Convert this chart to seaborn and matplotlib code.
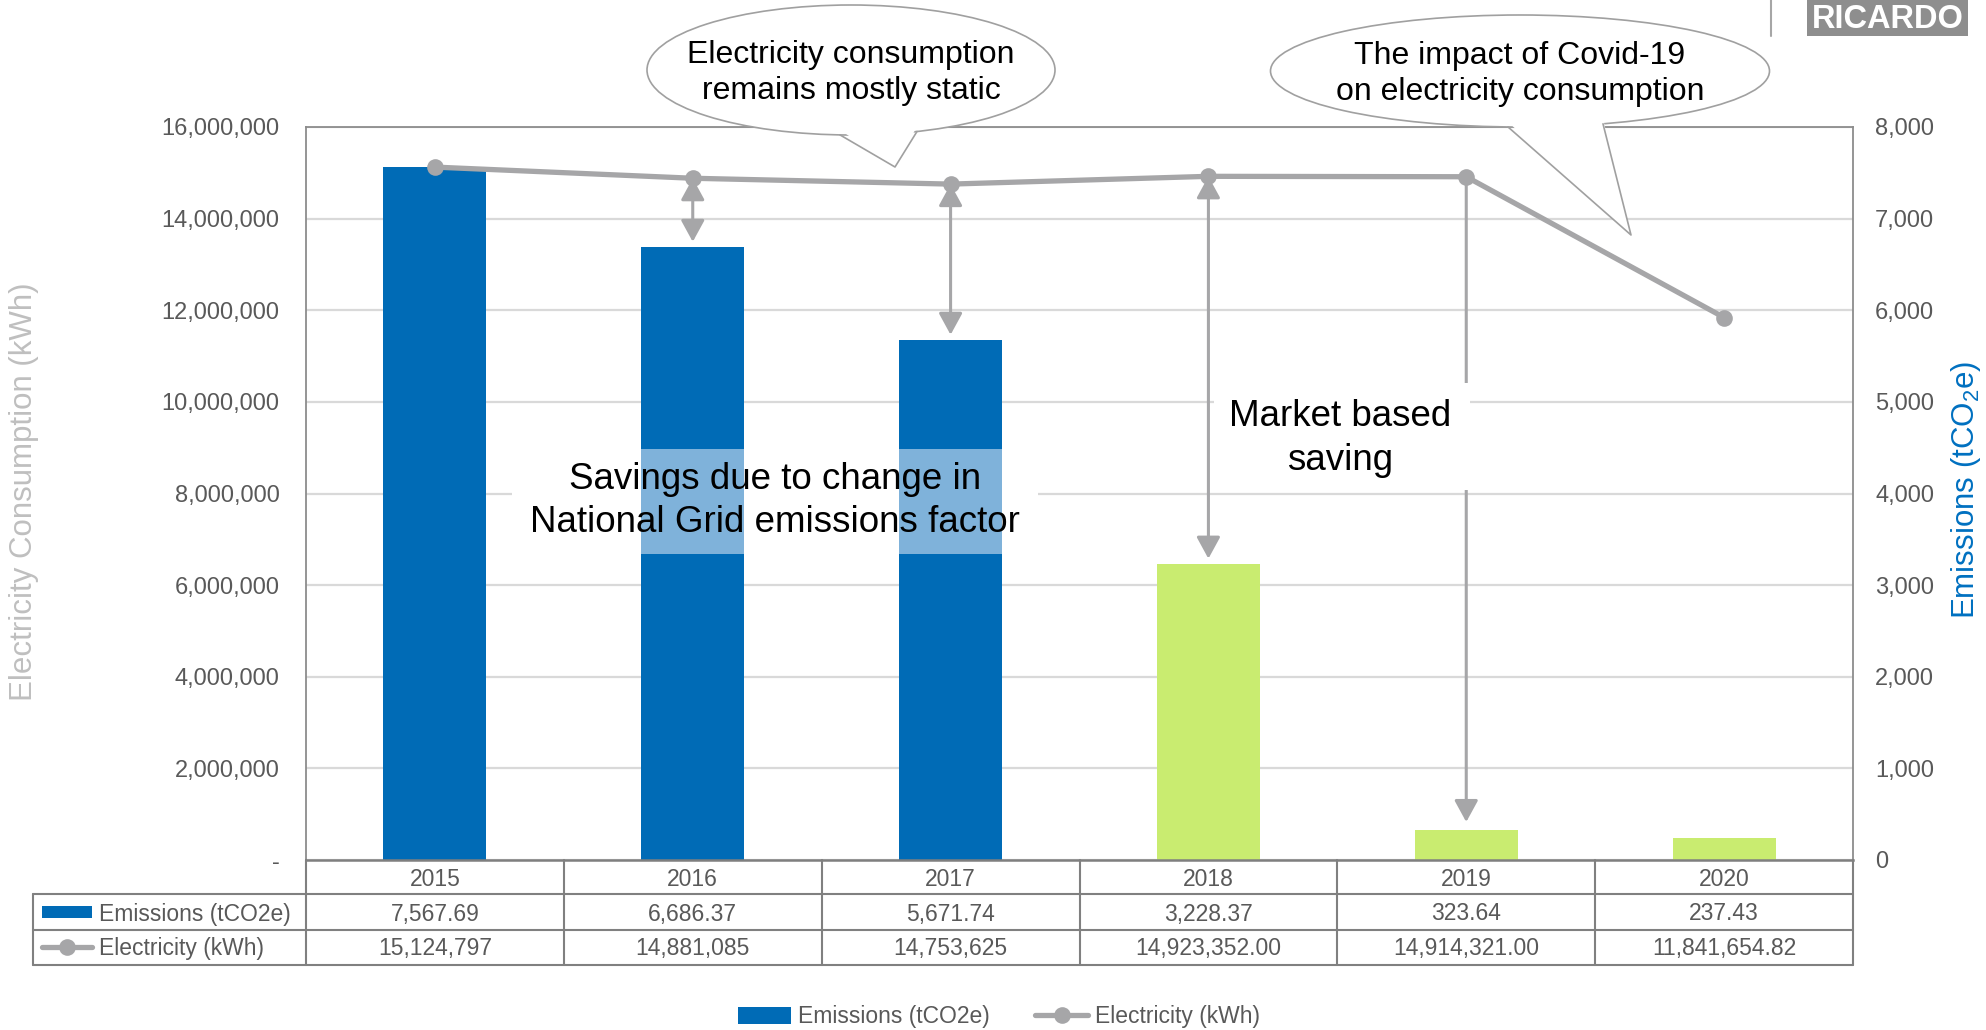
import numpy as np
import pandas as pd
import matplotlib
matplotlib.use("Agg")
import matplotlib.pyplot as plt
import matplotlib.transforms as mtransforms
from matplotlib.patches import Rectangle, Ellipse, Polygon, Patch
from matplotlib.lines import Line2D
import seaborn as sns

# ---------------- data ----------------
years = ["2015", "2016", "2017", "2018", "2019", "2020"]
emissions = [7567.69, 6686.37, 5671.74, 3228.37, 323.64, 237.43]          # tCO2e
electricity = [15124797, 14881085, 14753625, 14923352.00, 14914321.00, 11841654.82]  # kWh
basis = ["Location", "Location", "Location", "Market", "Market", "Market"]
emission_labels = ["7,567.69", "6,686.37", "5,671.74", "3,228.37", "323.64", "237.43"]
electricity_labels = ["15,124,797", "14,881,085", "14,753,625", "14,923,352.00",
                      "14,914,321.00", "11,841,654.82"]
left_ticks = [0, 2e6, 4e6, 6e6, 8e6, 10e6, 12e6, 14e6, 16e6]
left_tick_labels = ["-", "2,000,000", "4,000,000", "6,000,000", "8,000,000",
                    "10,000,000", "12,000,000", "14,000,000", "16,000,000"]
right_ticks = [0, 1000, 2000, 3000, 4000, 5000, 6000, 7000, 8000]
right_tick_labels = ["0", "1,000", "2,000", "3,000", "4,000", "5,000", "6,000", "7,000", "8,000"]
grid_factor_band = [3344, 4490]          # tCO2e range highlighted on 2016/2017 bars
grid_factor_years = [1, 2]
location_arrow_years = [1, 2, 3]
market_arrow_years = [4]

# ---------------- style ----------------
BLUE = "#006BB6"
GREEN = "#C9EC70"
LIGHT_BLUE = "#7FB2DA"
LINE_GREY = "#A6A6A8"
TEXT_GREY = "#595959"
FRAME = "#8C8C8C"
EDGE = "#A0A0A0"

sns.set_theme(style="white")
plt.rcParams["font.family"] = ["Liberation Sans", "DejaVu Sans"]
plt.rcParams["mathtext.fontset"] = "custom"
plt.rcParams["mathtext.rm"] = "Liberation Sans"
plt.rcParams["mathtext.it"] = "Liberation Sans:italic"

W, H = 1986, 1030
fig = plt.figure(figsize=(W / 100, H / 100), dpi=100)
fig.patch.set_facecolor("white")


def fx(x):
    return x / W


def fy(y):
    return 1 - y / H


ax = fig.add_axes([fx(306), fy(860), (1853 - 306) / W, (860 - 127) / H])
ax2 = ax.twinx()
ax.set_zorder(ax2.get_zorder() + 1)
ax.patch.set_visible(False)

# ---------------- bars (right axis) ----------------
df = pd.DataFrame({"year": years, "emissions": emissions, "basis": basis})
sns.barplot(data=df, x="year", y="emissions", hue="basis",
            palette={"Location": BLUE, "Market": GREEN},
            width=0.4, dodge=False, saturation=1, legend=False, ax=ax2,
            linewidth=0, edgecolor="none")
ax2.set_ylim(0, 8000)
ax2.yaxis.grid(True, color="#D9D9D9", lw=1.6)
ax2.xaxis.grid(False)
ax2.set_axisbelow(True)
ax2.set_yticks(right_ticks)
ax2.set_yticklabels(right_tick_labels)
ax2.tick_params(axis="y", length=0, pad=16, labelsize=17, labelcolor=TEXT_GREY)
ax2.set_xlabel("")
ax2.set_ylabel("")
for s in ax2.spines.values():
    s.set_visible(False)

# grid-factor savings highlight
ax2.add_patch(Rectangle((0.30, grid_factor_band[0]), 2.04,
                        grid_factor_band[1] - grid_factor_band[0],
                        facecolor="white", edgecolor="none", zorder=3))
ax2.bar(grid_factor_years, grid_factor_band[1] - grid_factor_band[0],
        bottom=grid_factor_band[0], width=0.4, color=LIGHT_BLUE, linewidth=0, zorder=4)
ax2.text(1.32, sum(grid_factor_band) / 2, "Savings due to change in\nNational Grid emissions factor",
         ha="center", va="center", fontsize=26.5, color="black", linespacing=1.3, zorder=5)

# ---------------- electricity line (left axis) ----------------
x_pos = np.arange(len(years))
sns.lineplot(x=x_pos, y=electricity, ax=ax, color=LINE_GREY, lw=3.8, marker="o",
             markersize=12, markeredgewidth=0, zorder=6, legend=False)
ax.set_ylim(0, 16e6)
ax.set_yticks(left_ticks)
ax.set_yticklabels(left_tick_labels)
ax.tick_params(axis="y", length=0, pad=19, labelsize=17, labelcolor=TEXT_GREY)
ax.tick_params(axis="x", bottom=False, labelbottom=False)
ax.set_xlabel("")
ax.set_ylabel("")
ax.grid(False)
for k, s in ax.spines.items():
    s.set_visible(True)
    s.set_color(FRAME)
    s.set_linewidth(1.3)
ax.spines["bottom"].set_color("#7F7F7F")
ax.spines["bottom"].set_linewidth(1.8)

# arrows from line to bars
for i in location_arrow_years:
    ax.annotate("", xy=(i, emissions[i]), xycoords=ax2.transData,
                xytext=(i, electricity[i]), textcoords="data",
                arrowprops=dict(arrowstyle="<|-|>,head_length=0.55,head_width=0.3",
                                mutation_scale=24, color=LINE_GREY, lw=2.2,
                                shrinkA=0, shrinkB=4), zorder=3)
for i in market_arrow_years:
    ax.annotate("", xy=(i, emissions[i]), xycoords=ax2.transData,
                xytext=(i, electricity[i]), textcoords="data",
                arrowprops=dict(arrowstyle="-|>,head_length=0.55,head_width=0.3",
                                mutation_scale=24, color=LINE_GREY, lw=2.2,
                                shrinkA=0, shrinkB=6), zorder=3)

# market based saving label
ax.add_patch(Rectangle((3.02, 8.08e6), 0.995, 2.33e6, facecolor="white",
                       edgecolor="none", zorder=7))
ax.text(3.51, 9.2e6, "Market based\nsaving", ha="center", va="center",
        fontsize=26.5, color="black", linespacing=1.3, zorder=8)

ax.set_xlim(-0.5, len(years) - 0.5)
ax2.set_xlim(-0.5, len(years) - 0.5)

# ---------------- axis titles ----------------
fig.text(fx(24), fy(492), "Electricity Consumption (kWh)", rotation=90,
         ha="center", va="center", fontsize=22.5, color="#BFBFBF")
fig.text(fx(1966), fy(490), r"Emissions (tCO$_\mathrm{2}$e)", rotation=90,
         ha="center", va="center", fontsize=22.5, color="#0070C0")

# ---------------- data table ----------------
blend = mtransforms.blended_transform_factory(ax.transData, fig.transFigure)
TL = "#808080"
row_y = [879, 914, 949]
for i in range(len(years)):
    ax.text(i, fy(row_y[0]), years[i], transform=blend, ha="center", va="center",
            fontsize=16.5, color=TEXT_GREY)
    ax.text(i, fy(row_y[1]), emission_labels[i], transform=blend, ha="center", va="center",
            fontsize=16.5, color=TEXT_GREY)
    ax.text(i, fy(row_y[2]), electricity_labels[i], transform=blend, ha="center", va="center",
            fontsize=16.5, color=TEXT_GREY)
for b in np.arange(-0.5, len(years), 1.0):
    fig.add_artist(Line2D([b, b], [fy(860), fy(965)], transform=blend, color=TL, lw=1.5))
for yy in [894, 930, 965]:
    fig.add_artist(Line2D([fx(33), fx(1853)], [fy(yy), fy(yy)], transform=fig.transFigure,
                          color=TL, lw=1.5))
fig.add_artist(Line2D([fx(33), fx(33)], [fy(894), fy(965)], transform=fig.transFigure,
                      color=TL, lw=1.5))
# row labels with keys
fig.add_artist(Rectangle((fx(42), fy(918)), 50 / W, 12 / H, transform=fig.transFigure,
                         facecolor=BLUE, edgecolor="none"))
fig.text(fx(99), fy(row_y[1]), "Emissions (tCO2e)", ha="left", va="center",
         fontsize=16.5, color=TEXT_GREY)
fig.add_artist(Line2D([fx(42), fx(92)], [fy(947), fy(947)], transform=fig.transFigure,
                      color=LINE_GREY, lw=3.8))
fig.add_artist(Line2D([fx(67)], [fy(947)], transform=fig.transFigure, marker="o",
                      markersize=12, markeredgewidth=0, color=LINE_GREY))
fig.text(fx(99), fy(row_y[2]), "Electricity (kWh)", ha="left", va="center",
         fontsize=16.5, color=TEXT_GREY)

# ---------------- legend ----------------
handles = [Patch(facecolor=BLUE, edgecolor="none"),
           Line2D([0], [0], color=LINE_GREY, lw=3.8, marker="o", markersize=12,
                  markeredgewidth=0)]
fig.legend(handles, ["Emissions (tCO2e)", "Electricity (kWh)"], loc="center",
           bbox_to_anchor=(0.503, fy(1017)), ncol=2, frameon=False, fontsize=16.5,
           labelcolor=TEXT_GREY, handlelength=2.3, handletextpad=0.3, columnspacing=2.0)


# ---------------- callout bubbles ----------------
def bubble(cx, cy, w, h, bx1, bx2, tip, text):
    def on_ell(x):
        r = (x - cx) / (w / 2)
        return cy + (h / 2) * np.sqrt(max(0.0, 1 - r * r))
    b1 = (bx1, on_ell(bx1))
    b2 = (bx2, on_ell(bx2))
    fig.add_artist(Ellipse((fx(cx), fy(cy)), w / W, h / H, transform=fig.transFigure,
                           facecolor="white", edgecolor=EDGE, lw=1.2, zorder=10))
    fig.add_artist(Polygon([(fx(b1[0]), fy(b1[1] - 5)), (fx(b2[0]), fy(b2[1] - 5)),
                            (fx(tip[0]), fy(tip[1]))], closed=True, transform=fig.transFigure,
                           facecolor="white", edgecolor="none", zorder=11))
    fig.add_artist(Line2D([fx(b1[0]), fx(tip[0]), fx(b2[0])], [fy(b1[1]), fy(tip[1]), fy(b2[1])],
                          transform=fig.transFigure, color=EDGE, lw=1.2, zorder=12))
    fig.text(fx(cx), fy(cy + 3), text, ha="center", va="center", fontsize=23,
             color="black", linespacing=1.28, zorder=13)


bubble(851, 70, 408, 130, 840, 917, (895, 167),
       "Electricity consumption\nremains mostly static")
bubble(1520, 71, 499, 112, 1508, 1603, (1631, 235),
       "The impact of Covid-19\non electricity consumption")

# ---------------- logo ----------------
fig.add_artist(Line2D([fx(1771), fx(1771)], [fy(0), fy(36)], transform=fig.transFigure,
                      color="#A6A6A6", lw=1.5))
fig.add_artist(Rectangle((fx(1807), fy(36)), 161 / W, 36 / H, transform=fig.transFigure,
                         facecolor="#8E8E8E", edgecolor="none"))
fig.text(fx(1888), fy(19), "RICARDO", ha="center", va="center", fontsize=23.5,
         fontweight="bold", color="white")

fig.savefig("out.png", dpi=100)
